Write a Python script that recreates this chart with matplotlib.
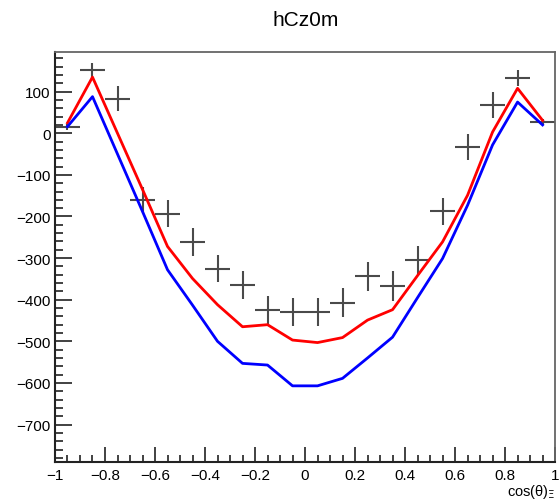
import numpy as np
import matplotlib
matplotlib.use("Agg")
import matplotlib.pyplot as plt
from matplotlib.ticker import MultipleLocator

plt.rcParams['font.family'] = ['Liberation Sans', 'DejaVu Sans']

# bin centres of cos(theta), 20 bins from -1 to 1
cos_bins = [-0.95, -0.85, -0.75, -0.65, -0.55, -0.45, -0.35, -0.25, -0.15, -0.05,
            0.05, 0.15, 0.25, 0.35, 0.45, 0.55, 0.65, 0.75, 0.85, 0.95]
bin_halfwidth = 0.05

# data histogram (hCz0m) and its errors
data_vals = [15, 151, 83, -160, -193, -261, -325, -364, -425, -429,
             -429, -407, -344, -367, -305, -188, -33, 67, 132, 27]
data_errs = [7, 19, 30, 32, 33, 33, 33, 34, 34, 34,
             34, 34, 34, 35, 35, 33, 32, 31, 19, 7]

# model curves
red_vals = [25, 135, 0, -135, -272, -349, -412, -465, -460, -497,
            -503, -491, -449, -424, -342, -261, -149, 3, 108, 31]
blue_vals = [16, 88, -50, -188, -328, -413, -500, -553, -557, -607,
             -607, -589, -540, -490, -395, -301, -173, -28, 75, 20]

fig = plt.figure(figsize=(5.6, 5.02), dpi=100)
ax = fig.add_axes([0.0982, 0.0777, 0.893, 0.8173])

ax.errorbar(cos_bins, data_vals, xerr=bin_halfwidth, yerr=data_errs,
            fmt='none', ecolor='#4a4a4a', elinewidth=1.5, capsize=0, zorder=2)
ax.plot(cos_bins, red_vals, color='#ff0000', lw=2, zorder=3)
ax.plot(cos_bins, blue_vals, color='#0000ff', lw=2, zorder=3)

ax.set_xlim(-1, 1)
ax.set_ylim(-790, 196)

ax.xaxis.set_major_locator(MultipleLocator(0.2))
ax.xaxis.set_minor_locator(MultipleLocator(0.05))
ax.yaxis.set_major_locator(MultipleLocator(100))
ax.yaxis.set_minor_locator(MultipleLocator(20))
ax.set_xticks([-1, -0.8, -0.6, -0.4, -0.2, 0, 0.2, 0.4, 0.6, 0.8, 1])
ax.set_xticklabels(['\u22121', '\u22120.8', '\u22120.6', '\u22120.4', '\u22120.2', '0',
                    '0.2', '0.4', '0.6', '0.8', '1'])

ax.tick_params(which='both', direction='in', top=False, right=False,
               labelsize=11, color='#333333', width=1.3)
ax.tick_params(axis='y', which='major', length=12, pad=3)
ax.tick_params(axis='y', which='minor', length=6)
ax.tick_params(axis='x', which='major', length=11, pad=4)
ax.tick_params(axis='x', which='minor', length=5)

for side in ['left', 'bottom']:
    ax.spines[side].set_color('#222222')
    ax.spines[side].set_linewidth(1.5)
for side in ['top', 'right']:
    ax.spines[side].set_color('#666666')
    ax.spines[side].set_linewidth(1.3)

fig.text(0.545, 0.959, 'hCz0m', ha='center', va='center', fontsize=15)
fig.text(0.991, 0.011, 'cos(\u03b8)$_{\\Xi}$', ha='right', va='baseline', fontsize=10.5)

fig.savefig('out.png', dpi=100)
